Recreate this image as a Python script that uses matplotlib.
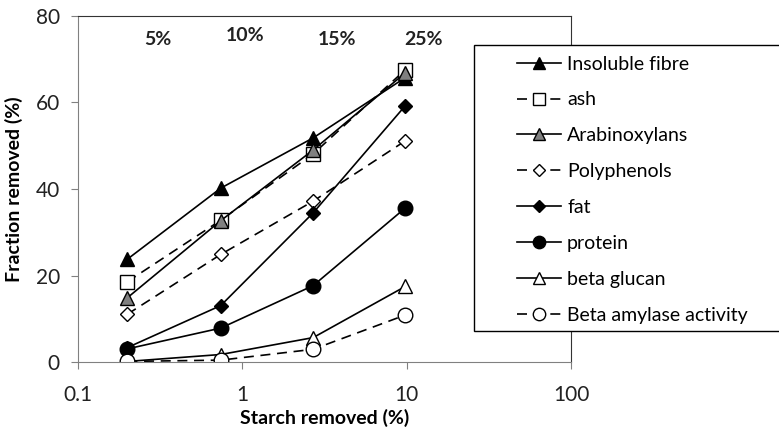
import matplotlib.pyplot as plt
from matplotlib.patches import Rectangle

plt.rcParams["font.family"] = ["Lato", "DejaVu Sans"]

starch = [0.2, 0.74, 2.7, 9.8]
series_names = ["Insoluble fibre", "ash", "Arabinoxylans", "Polyphenols",
                "fat", "protein", "beta glucan", "Beta amylase activity"]
insoluble_fibre = [23.8, 40.2, 51.8, 65.7]
ash = [18.6, 32.8, 48.1, 67.5]
arabinoxylans = [14.9, 32.7, 49.0, 66.8]
polyphenols = [11.1, 24.9, 37.2, 51.1]
fat = [3.4, 13.1, 34.5, 59.2]
protein = [3.1, 7.9, 17.7, 35.6]
beta_glucan = [0.2, 1.8, 5.7, 17.5]
beta_amylase = [0.2, 0.5, 3.0, 10.9]
levels = ["5%", "10%", "15%", "25%"]

styles = [
    dict(ls="-", marker="^", mfc="black", ms=9.5),
    dict(ls=(0, (6, 4)), marker="s", mfc="white", ms=10.5),
    dict(ls="-", marker="^", mfc="#808080", ms=9.5),
    dict(ls=(0, (6, 4)), marker="D", mfc="white", ms=7),
    dict(ls="-", marker="D", mfc="black", ms=7),
    dict(ls="-", marker="o", mfc="black", ms=10.5),
    dict(ls="-", marker="^", mfc="white", ms=9.5),
    dict(ls=(0, (6, 4)), marker="o", mfc="white", ms=10.5),
]
values = [insoluble_fibre, ash, arabinoxylans, polyphenols,
          fat, protein, beta_glucan, beta_amylase]

fig = plt.figure(figsize=(7.79, 4.28), dpi=100)
ax = fig.add_axes([0.100, 0.1535, 0.633, 0.8098])

for name, vals, st in zip(series_names, values, styles):
    ax.plot(starch, vals, color="black", lw=1.2, mec="black", mew=1.0,
            label=name, **st)

ax.set_xscale("log")
ax.set_xlim(0.1, 100)
ax.set_ylim(0, 80)
ax.set_xticks([0.1, 1, 10, 100])
ax.set_xticklabels(["0.1", "1", "10", "100"])
ax.minorticks_off()
ax.set_yticks([0, 20, 40, 60, 80])
ax.spines["left"].set_color("#808080")
ax.spines["bottom"].set_color("#808080")
ax.spines["top"].set_color("#333333")
ax.spines["right"].set_color("#333333")
ax.tick_params(colors="#808080", labelcolor="#222222", labelsize=15,
               length=5, direction="out")
ax.tick_params(axis="x", pad=11)
ax.tick_params(axis="y", pad=8)
ax.set_xlabel("Starch removed (%)", fontsize=14, fontweight="bold", labelpad=3)
ax.set_ylabel("Fraction removed (%)", fontsize=14, fontweight="bold", labelpad=9)

lvl_pos = [(0.162, 0.930), (0.339, 0.944), (0.525, 0.930), (0.700, 0.930)]
for txt, (px, py) in zip(levels, lvl_pos):
    ax.text(px, py, txt, transform=ax.transAxes, ha="center", va="center",
            fontsize=14, fontweight="bold", color="#222222")

box = Rectangle((474 / 779, 1 - 331 / 428), 0.5, 286 / 428,
                transform=fig.transFigure, facecolor="white",
                edgecolor="black", lw=1.0, zorder=3)
fig.add_artist(box)

handles, labels = ax.get_legend_handles_labels()
fig.legend(handles, labels, loc="upper left",
           bbox_to_anchor=(499 / 779, 1 - 38 / 428), frameon=False,
           fontsize=14, handlelength=2.3, handletextpad=0.3,
           labelspacing=0.97, borderpad=0.4, numpoints=1,
           markerscale=0.85).set_zorder(5)

fig.savefig("out.png", dpi=100)
